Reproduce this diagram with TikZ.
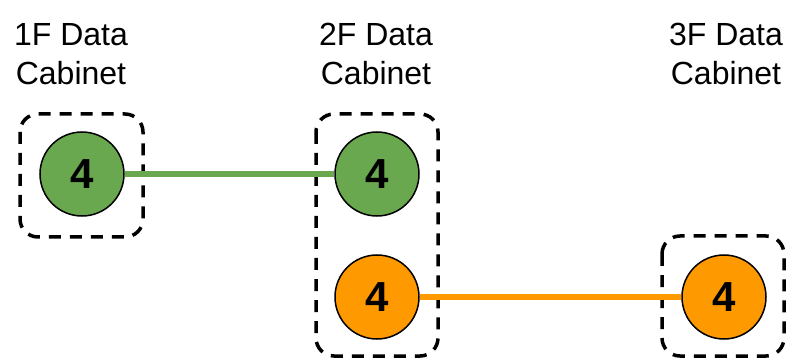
\documentclass[tikz,border=0pt]{standalone}
\usepackage{fontspec}
\setmainfont{Liberation Sans}
\definecolor{cgreen}{HTML}{6AA84F}
\definecolor{corange}{HTML}{FF9900}
\begin{document}
\begin{tikzpicture}[x=1pt,y=-1pt,
  port/.style={circle,draw=black,line width=1.5pt,minimum size=84pt,inner sep=0pt,font=\fontsize{42}{46}\selectfont\bfseries},
  cab/.style={draw=black,line width=3.5pt,dash pattern=on 12pt off 9pt,rounded corners=18pt},
  title/.style={align=center,font=\fontsize{32}{39}\selectfont,inner sep=0pt,anchor=base},
  link/.style={line width=6pt}]
\useasboundingbox (0,0) rectangle (790,358);
\draw[cab] (20,114) rectangle (143,237);
\draw[cab] (316,114) rectangle (438,356);
\draw[cab] (662,236) rectangle (784,356);
\node[port,fill=cgreen] (g1) at (82,174) {4};
\node[port,fill=cgreen] (g2) at (377,174) {4};
\node[port,fill=corange] (o2) at (377,297) {4};
\node[port,fill=corange] (o3) at (724,297) {4};
\draw[link,cgreen] (g1) -- (g2);
\draw[link,corange] (o2) -- (o3);
\node[title] (t1) at (71,85) {1F Data\\Cabinet};
\node[title] (t2) at (376,85) {2F Data\\Cabinet};
\node[title] (t3) at (726,85) {3F Data\\Cabinet};
\end{tikzpicture}
\end{document}
